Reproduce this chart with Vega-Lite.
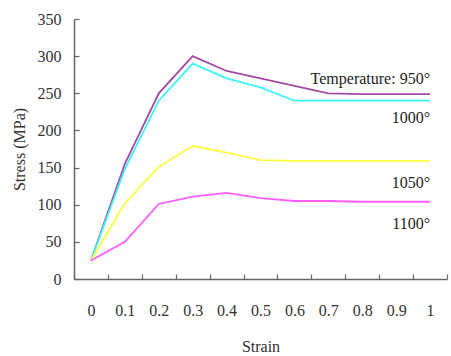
{
  "$schema": "https://vega.github.io/schema/vega-lite/v6.json",
  "autosize": "none",
  "width": 373,
  "height": 260,
  "padding": {"left": 74, "top": 19, "right": 4, "bottom": 77},
  "background": "white",
  "config": {
    "font": "Liberation Serif, serif",
    "view": {"stroke": null},
    "axis": {"grid": false, "domainColor": "#666", "tickColor": "#666", "labelColor": "#333", "titleColor": "#333", "labelFont": "Liberation Serif, serif", "titleFont": "Liberation Serif, serif", "labelFontSize": 16, "titleFontSize": 16, "titleFontWeight": "normal", "domainWidth": 1.5, "tickWidth": 1.2}
  },
  "datasets": {
    "curves": [
      {"strain": "0", "stress": 25, "temp": "950"},
      {"strain": "0.1", "stress": 155, "temp": "950"},
      {"strain": "0.2", "stress": 250, "temp": "950"},
      {"strain": "0.3", "stress": 300, "temp": "950"},
      {"strain": "0.4", "stress": 280, "temp": "950"},
      {"strain": "0.5", "stress": 270, "temp": "950"},
      {"strain": "0.6", "stress": 260, "temp": "950"},
      {"strain": "0.7", "stress": 250, "temp": "950"},
      {"strain": "0.8", "stress": 249, "temp": "950"},
      {"strain": "0.9", "stress": 249, "temp": "950"},
      {"strain": "1", "stress": 249, "temp": "950"},
      {"strain": "0", "stress": 25, "temp": "1000"},
      {"strain": "0.1", "stress": 148, "temp": "1000"},
      {"strain": "0.2", "stress": 240, "temp": "1000"},
      {"strain": "0.3", "stress": 290, "temp": "1000"},
      {"strain": "0.4", "stress": 270, "temp": "1000"},
      {"strain": "0.5", "stress": 258, "temp": "1000"},
      {"strain": "0.6", "stress": 240, "temp": "1000"},
      {"strain": "0.7", "stress": 240, "temp": "1000"},
      {"strain": "0.8", "stress": 240, "temp": "1000"},
      {"strain": "0.9", "stress": 240, "temp": "1000"},
      {"strain": "1", "stress": 240, "temp": "1000"},
      {"strain": "0", "stress": 25, "temp": "1050"},
      {"strain": "0.1", "stress": 102, "temp": "1050"},
      {"strain": "0.2", "stress": 151, "temp": "1050"},
      {"strain": "0.3", "stress": 179, "temp": "1050"},
      {"strain": "0.4", "stress": 170, "temp": "1050"},
      {"strain": "0.5", "stress": 160, "temp": "1050"},
      {"strain": "0.6", "stress": 159, "temp": "1050"},
      {"strain": "0.7", "stress": 159, "temp": "1050"},
      {"strain": "0.8", "stress": 159, "temp": "1050"},
      {"strain": "0.9", "stress": 159, "temp": "1050"},
      {"strain": "1", "stress": 159, "temp": "1050"},
      {"strain": "0", "stress": 25, "temp": "1100"},
      {"strain": "0.1", "stress": 50, "temp": "1100"},
      {"strain": "0.2", "stress": 101, "temp": "1100"},
      {"strain": "0.3", "stress": 111, "temp": "1100"},
      {"strain": "0.4", "stress": 116, "temp": "1100"},
      {"strain": "0.5", "stress": 109, "temp": "1100"},
      {"strain": "0.6", "stress": 105, "temp": "1100"},
      {"strain": "0.7", "stress": 105, "temp": "1100"},
      {"strain": "0.8", "stress": 104, "temp": "1100"},
      {"strain": "0.9", "stress": 104, "temp": "1100"},
      {"strain": "1", "stress": 104, "temp": "1100"}
    ],
    "labels": [
      {"strain": "1", "stress": 269, "label": "Temperature: 950°"},
      {"strain": "1", "stress": 217, "label": "1000°"},
      {"strain": "1", "stress": 129, "label": "1050°"},
      {"strain": "1", "stress": 74, "label": "1100°"}
    ]
  },
  "encoding": {
    "x": {"field": "strain", "type": "ordinal", "sort": null,
      "scale": {"domain": ["0","0.1","0.2","0.3","0.4","0.5","0.6","0.7","0.8","0.9","1"], "paddingInner": 0, "paddingOuter": 0},
      "axis": {"title": "Strain", "labelAngle": 0, "tickBand": "extent", "tickSize": -5, "labelPadding": 28, "titlePadding": 20}},
    "y": {"field": "stress", "type": "quantitative",
      "scale": {"domain": [0, 350], "nice": false},
      "axis": {"title": "Stress (MPa)", "values": [0,50,100,150,200,250,300,350], "tickSize": -5, "labelPadding": 18, "titlePadding": 10}}
  },
  "layer": [
    {
      "data": {"name": "curves"},
      "mark": {"type": "line", "strokeWidth": 1.8},
      "encoding": {
        "color": {"field": "temp", "type": "nominal", "legend": null,
          "scale": {"domain": ["950","1000","1050","1100"], "range": ["#A348A6", "#3CF5F5", "#FFFF40", "#FF5CFF"]}}
      }
    },
    {
      "data": {"name": "labels"},
      "mark": {"type": "text", "align": "right", "baseline": "middle", "fontSize": 16, "color": "#222", "font": "Liberation Serif, serif"},
      "encoding": {"text": {"field": "label"}}
    }
  ]
}
